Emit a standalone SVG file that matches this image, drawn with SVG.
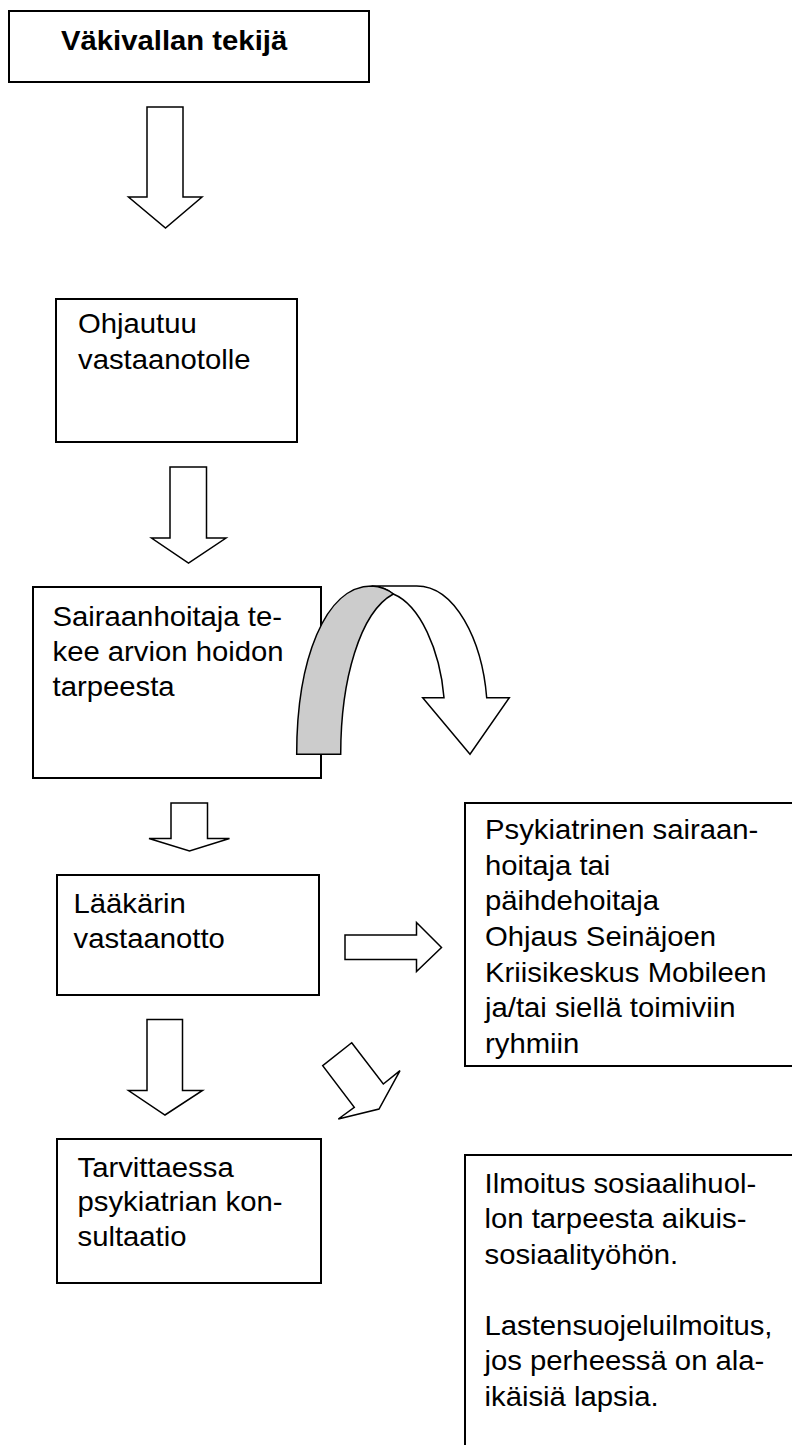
<svg xmlns="http://www.w3.org/2000/svg" width="792" height="1445" viewBox="0 0 792 1445">
<style>
.box{fill:#fff;stroke:#000;stroke-width:2}
.arr{fill:#fff;stroke:#000;stroke-width:1.5;stroke-linejoin:miter}
.t{font-family:"Liberation Sans",Arial,sans-serif;font-size:27.5px;fill:#000}
.b{font-weight:bold}
</style>
<rect width="792" height="1445" fill="#fff"/>
<g id="n1">
<rect class="box" x="9" y="11" width="360" height="71"/>
<text class="t b" transform="matrix(1.065 0 0 1 61 0)"><tspan x="0" y="50">Väkivallan tekijä</tspan></text>
</g>
<g id="n2">
<rect class="box" x="56" y="299" width="241" height="143"/>
<text class="t" transform="matrix(1.065 0 0 1 78 0)"><tspan x="0" y="333">Ohjautuu</tspan><tspan x="0" y="369">vastaanotolle</tspan></text>
</g>
<g id="n3">
<rect class="box" x="33" y="587" width="288" height="191"/>
<text class="t" transform="matrix(1.065 0 0 1 52.5 0)"><tspan x="0" y="626">Sairaanhoitaja te-</tspan><tspan x="0" y="661">kee arvion hoidon</tspan><tspan x="0" y="696">tarpeesta</tspan></text>
</g>
<g id="n4">
<rect class="box" x="57" y="875" width="262" height="120"/>
<text class="t" transform="matrix(1.065 0 0 1 73.5 0)"><tspan x="0" y="913">Lääkärin</tspan><tspan x="0" y="948">vastaanotto</tspan></text>
</g>
<g id="n5">
<rect class="box" x="465" y="803" width="340" height="263"/>
<text class="t" transform="matrix(1.065 0 0 1 485 0)"><tspan x="0" y="839">Psykiatrinen sairaan-</tspan><tspan x="0" y="874.7">hoitaja tai</tspan><tspan x="0" y="910.4">päihdehoitaja</tspan><tspan x="0" y="946.1">Ohjaus Seinäjoen</tspan><tspan x="0" y="981.8">Kriisikeskus Mobileen</tspan><tspan x="0" y="1017.5">ja/tai siellä toimiviin</tspan><tspan x="0" y="1053.2">ryhmiin</tspan></text>
</g>
<g id="n6">
<rect class="box" x="57" y="1139" width="264" height="144"/>
<text class="t" transform="matrix(1.065 0 0 1 77.5 0)"><tspan x="0" y="1177">Tarvittaessa</tspan><tspan x="0" y="1211.5">psykiatrian kon-</tspan><tspan x="0" y="1246">sultaatio</tspan></text>
</g>
<g id="n7">
<rect class="box" x="465" y="1155" width="340" height="300"/>
<text class="t" transform="matrix(1.065 0 0 1 484.5 0)"><tspan x="0" y="1193">Ilmoitus sosiaalihuol-</tspan><tspan x="0" y="1228.5">lon tarpeesta aikuis-</tspan><tspan x="0" y="1264">sosiaalityöhön.</tspan><tspan x="0" y="1335">Lastensuojeluilmoitus,</tspan><tspan x="0" y="1370.5">jos perheessä on ala-</tspan><tspan x="0" y="1406">ikäisiä lapsia.</tspan></text>
</g>
<g id="connectors">
<path class="arr" d="M147 107 H183 V197 H202 L165.5 228 L128.5 197 H147 Z"/>
<path class="arr" d="M170 467 H206.5 V538 H226 L188.5 563 L151.5 538 H170 Z"/>
<path class="arr" d="M171 803 H207.5 V838.5 H229.5 L189.5 851 L149 838.5 H171 Z"/>
<path class="arr" d="M345 935 H416.5 V922.5 L441.5 947.5 L416.5 971.5 V959.5 H345 Z"/>
<path class="arr" d="M351.7 1042.7 L383.3 1084 L400 1070.7 L379 1109 L338.3 1119 L354.3 1107.3 L322.7 1065.7 Z"/>
<path class="arr" d="M147 1019.5 H182.5 V1090.5 H202.5 L165 1115 L128.5 1090.5 H147 Z"/>
<g id="curved">
<path class="arr" d="M371.7 586 H416.7 C455 586 482 640 486.7 697.7 H509.3 L470 754.3 L422.7 697.7 H444 C440 650 420 605 393.3 594 Q385 587 371.7 586 Z"/>
<path d="M296.7 754.3 C296.7 660 325 586 371.7 586 Q385 587 393.3 594 C360 612 340.7 680 340.7 754.3 Z" fill="#cccccc" stroke="#000" stroke-width="1.5" stroke-linejoin="miter"/>
</g>
</g>
</svg>
